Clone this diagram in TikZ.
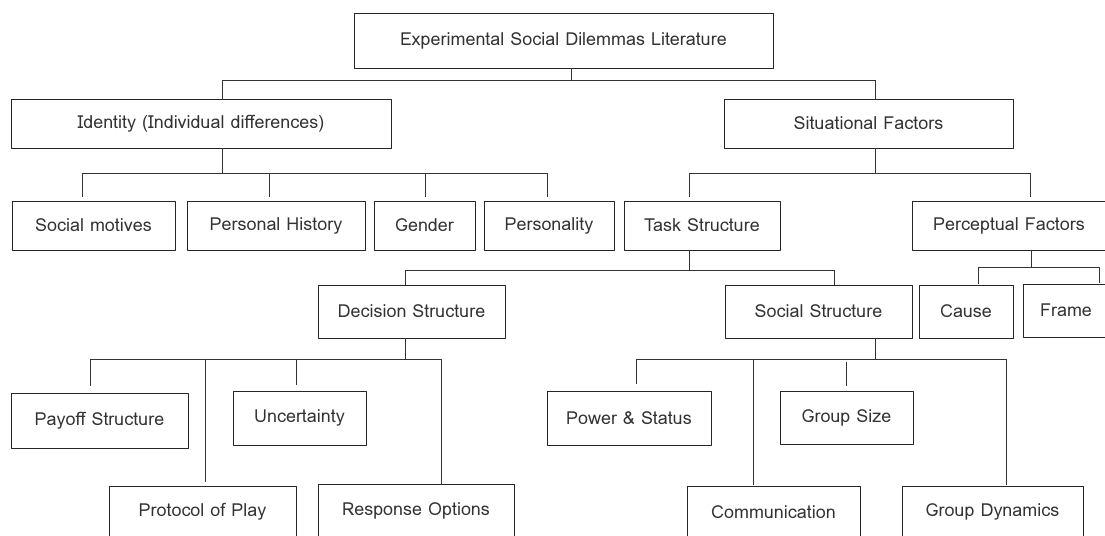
\documentclass[tikz,border=0pt]{standalone}
\usepackage{fontspec}
\setmainfont{Loma}
\begin{document}
\begin{tikzpicture}[>=latex,line join=bevel,
    box/.style={draw=black!85,text=black!80,rectangle,line width=0.9bp,inner sep=0pt,font=\fontsize{18}{21}\selectfont},
    link/.style={draw=black!80,line width=0.9bp},
    ]
    %%
    \useasboundingbox (0bp,0bp) rectangle (1105bp,536bp);
    \clip (0bp,0bp) rectangle (1105bp,536bp);
    %% boxes
    \node (root) at (563.5bp,495.5bp) [box,minimum width=419bp,minimum height=55bp] {Experimental Social Dilemmas Literature};
    \node (idn) at (201.0bp,412.5bp) [box,minimum width=380bp,minimum height=49bp] {Identity (Individual differences)};
    \node (sit) at (868.5bp,412.5bp) [box,minimum width=289bp,minimum height=49bp] {Situational Factors};
    \node (motives) at (93.5bp,310.5bp) [box,minimum width=163bp,minimum height=49bp] {Social motives};
    \node (history) at (276.0bp,310.5bp) [box,minimum width=178bp,minimum height=49bp] {Personal History};
    \node (gender) at (424.5bp,310.5bp) [box,minimum width=101bp,minimum height=49bp] {Gender};
    \node (personality) at (549.0bp,310.5bp) [box,minimum width=130bp,minimum height=49bp] {Personality};
    \node (task) at (702.0bp,310.5bp) [box,minimum width=156bp,minimum height=49bp] {Task Structure};
    \node (percept) at (1009.0bp,310.5bp) [box,minimum width=194bp,minimum height=49bp] {Perceptual Factors};
    \node (decision) at (411.5bp,224.5bp) [box,minimum width=187bp,minimum height=53bp] {Decision Structure};
    \node (social) at (818.5bp,224.5bp) [box,minimum width=187bp,minimum height=53bp] {Social Structure};
    \node (cause) at (966.0bp,224.5bp) [box,minimum width=94bp,minimum height=53bp] {Cause};
    \node (frame) at (1066.0bp,225.5bp) [box,minimum width=86bp,minimum height=53bp] {Frame};
    \node (payoff) at (99.5bp,115.5bp) [box,minimum width=177bp,minimum height=55bp] {Payoff Structure};
    \node (uncert) at (299.5bp,118.0bp) [box,minimum width=133bp,minimum height=54bp] {Uncertainty};
    \node (power) at (629.0bp,118.0bp) [box,minimum width=164bp,minimum height=54bp] {Power \& Status};
    \node (gsize) at (846.5bp,118.5bp) [box,minimum width=133bp,minimum height=53bp] {Group Size};
    \node (protocol) at (202.5bp,24.0bp) [box,minimum width=187bp,minimum height=52bp] {Protocol of Play};
    \node (response) at (416.0bp,25.5bp) [box,minimum width=196bp,minimum height=53bp] {Response Options};
    \node (comm) at (773.5bp,24.0bp) [box,minimum width=173bp,minimum height=52bp] {Communication};
    \node (dynamics) at (992.5bp,24.0bp) [box,minimum width=181bp,minimum height=52bp] {Group Dynamics};
    %% bus points
    \coordinate (r0) at (571bp,456bp);
    \coordinate (s-idn) at (222bp,456bp);
    \coordinate (s-sit) at (875bp,456bp);
    \coordinate (i0) at (222bp,363bp);
    \coordinate (s-mot) at (82bp,363bp);
    \coordinate (s-his) at (269bp,363bp);
    \coordinate (s-gen) at (425bp,363bp);
    \coordinate (s-per) at (547bp,363bp);
    \coordinate (t0) at (875bp,363bp);
    \coordinate (s-task) at (689bp,363bp);
    \coordinate (s-perc) at (1030bp,363bp);
    \coordinate (k0) at (689bp,266bp);
    \coordinate (s-dec) at (405bp,266bp);
    \coordinate (s-soc) at (834bp,266bp);
    \coordinate (p0) at (1031bp,269bp);
    \coordinate (s-cau) at (978bp,269bp);
    \coordinate (s-fra) at (1099bp,269bp);
    \coordinate (d0) at (405bp,177bp);
    \coordinate (s-pay) at (90bp,177bp);
    \coordinate (s-pro) at (205bp,177bp);
    \coordinate (s-unc) at (296bp,177bp);
    \coordinate (s-res) at (441bp,177bp);
    \coordinate (c0) at (875bp,177bp);
    \coordinate (s-pow) at (636bp,177bp);
    \coordinate (s-com) at (753bp,177bp);
    \coordinate (s-gsz) at (846bp,177bp);
    \coordinate (s-dyn) at (1006bp,177bp);
    %% stems out of the parents
    \foreach \n/\j in {root/r0,idn/i0,sit/t0,task/k0,percept/p0,decision/d0,social/c0}
        \draw [link] (\n.south -| \j) -- (\j);
    %% buses
    \draw [link] (s-idn) -- (s-sit);
    \draw [link] (s-mot) -- (s-per);
    \draw [link] (s-task) -- (s-perc);
    \draw [link] (s-dec) -- (s-soc);
    \draw [link] (s-cau) -- (s-fra);
    \draw [link] (s-pay) -- (s-res);
    \draw [link] (s-pow) -- (s-dyn);
    %% stems into the children
    \foreach \s/\n/\g in {s-idn/idn/0,s-sit/sit/0,s-mot/motives/4,s-his/history/4,s-gen/gender/4,
        s-per/personality/4,s-task/task/4,s-perc/percept/4,s-dec/decision/0,s-soc/social/0,
        s-cau/cause/1,s-fra/frame/1,s-pay/payoff/7,s-pro/protocol/4,s-unc/uncert/6,s-res/response/0,
        s-pow/power/7,s-com/comm/1,s-dyn/dynamics/1}
        \draw [link,shorten >=\g bp] (\s) -- (\s |- \n.north);
    \draw [link,shorten <=3bp,shorten >=5bp] (s-gsz) -- (s-gsz |- gsize.north);
    %
\end{tikzpicture}
\end{document}
